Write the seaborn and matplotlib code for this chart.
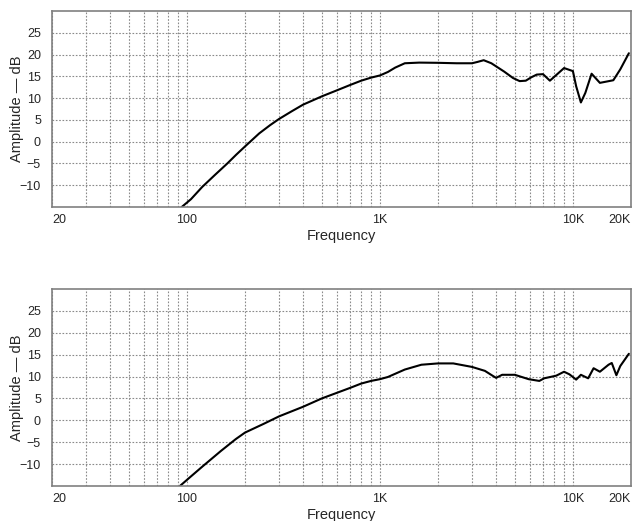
import numpy as np
import pandas as pd
import matplotlib
matplotlib.use("Agg")
import matplotlib.pyplot as plt
import seaborn as sns
from matplotlib.ticker import FixedLocator, NullFormatter

sns.set_style("white")
plt.rcParams['font.family'] = ['Liberation Sans', 'DejaVu Sans']

# Top panel - response (Hz, dB)
freq_top = [94, 105, 120, 140, 162, 180, 200, 237, 270, 300, 350, 400, 450, 500,
            600, 700, 800, 900, 1000, 1100, 1200, 1346, 1600, 2000, 2500, 3000,
            3200, 3450, 3780, 4400, 4900, 5300, 5700, 6100, 6500, 7000, 7600,
            8200, 9000, 10000, 10400, 11000, 11600, 12500, 13800, 16200, 17600, 19500]
db_top = [-15, -13.2, -10.4, -7.6, -5.0, -3.0, -1.1, 1.9, 3.8, 5.2, 7.0, 8.5, 9.5, 10.4,
          11.8, 13.0, 14.0, 14.7, 15.2, 16.0, 17.0, 18.0, 18.15, 18.1, 18.0, 18.0,
          18.3, 18.7, 18.0, 16.1, 14.6, 13.9, 14.0, 14.8, 15.4, 15.5, 14.0,
          15.3, 16.9, 16.2, 12.7, 9.0, 11.2, 15.6, 13.5, 14.1, 16.6, 20.3]

# Bottom panel
freq_bot = [92, 105, 120, 150, 179, 200, 250, 300, 400, 500, 600, 700, 800, 900,
            1000, 1100, 1346, 1640, 2000, 2400, 3000, 3500, 3800, 4000, 4300, 5000,
            5900, 6700, 7100, 8200, 9000, 9600, 10400, 11000, 12000, 12800, 13800,
            15300, 15900, 16800, 17600, 19500]
db_bot = [-15, -12.8, -10.6, -7.0, -4.3, -2.8, -0.8, 0.9, 3.1, 5.0, 6.3, 7.4, 8.4, 9.0,
          9.4, 9.9, 11.6, 12.7, 13.0, 13.0, 12.2, 11.3, 10.3, 9.7, 10.4, 10.4,
          9.4, 9.0, 9.6, 10.2, 11.1, 10.5, 9.3, 10.4, 9.6, 11.9, 11.1,
          12.7, 13.1, 10.3, 12.4, 15.2]

x_ticks = [20, 100, 1000, 10000, 20000]
x_labels = ['20', '100', '1K', '10K', '20K']
y_ticks = [-10, -5, 0, 5, 10, 15, 20, 25]
grid_freqs = [k * 10 ** n for n in range(1, 5) for k in range(1, 10)]

fig = plt.figure(figsize=(6.32, 5.21), dpi=100)
ax1 = fig.add_axes([0.0823, 0.6027, 0.9161, 0.3762])
ax2 = fig.add_axes([0.0823, 0.0672, 0.9161, 0.3781])

panels = [(ax1, freq_top, db_top), (ax2, freq_bot, db_bot)]
for ax, f, db in panels:
    df = pd.DataFrame({'Frequency': f, 'dB': db})
    sns.lineplot(data=df, x='Frequency', y='dB', ax=ax, color='black', linewidth=1.5)
    ax.set_xscale('log')
    ax.set_xlim(20, 20000)
    ax.set_ylim(-15, 30)
    ax.xaxis.set_minor_locator(FixedLocator(grid_freqs))
    ax.xaxis.set_minor_formatter(NullFormatter())
    ax.set_xticks(x_ticks)
    ax.set_xticklabels(x_labels)
    ax.set_yticks(y_ticks)
    ax.grid(which='both', axis='x', color='#8a8a8a', linestyle=(0, (1.5, 1.5)), linewidth=0.8)
    ax.grid(which='major', axis='y', color='#8a8a8a', linestyle=(0, (1.5, 1.5)), linewidth=0.8)
    ax.tick_params(which='both', length=0, labelsize=9, pad=5)
    ax.tick_params(axis='y', pad=8)
    labels = ax.get_xticklabels()
    labels[0].set_ha('left')
    labels[-1].set_ha('right')
    for s in ax.spines.values():
        s.set_color('#808080')
        s.set_linewidth(1.2)
    ax.set_xlabel('Frequency', fontsize=10.5, labelpad=2)
    ax.set_ylabel('Amplitude — dB', fontsize=10.5, labelpad=-3)

fig.savefig('out.png', dpi=100)
